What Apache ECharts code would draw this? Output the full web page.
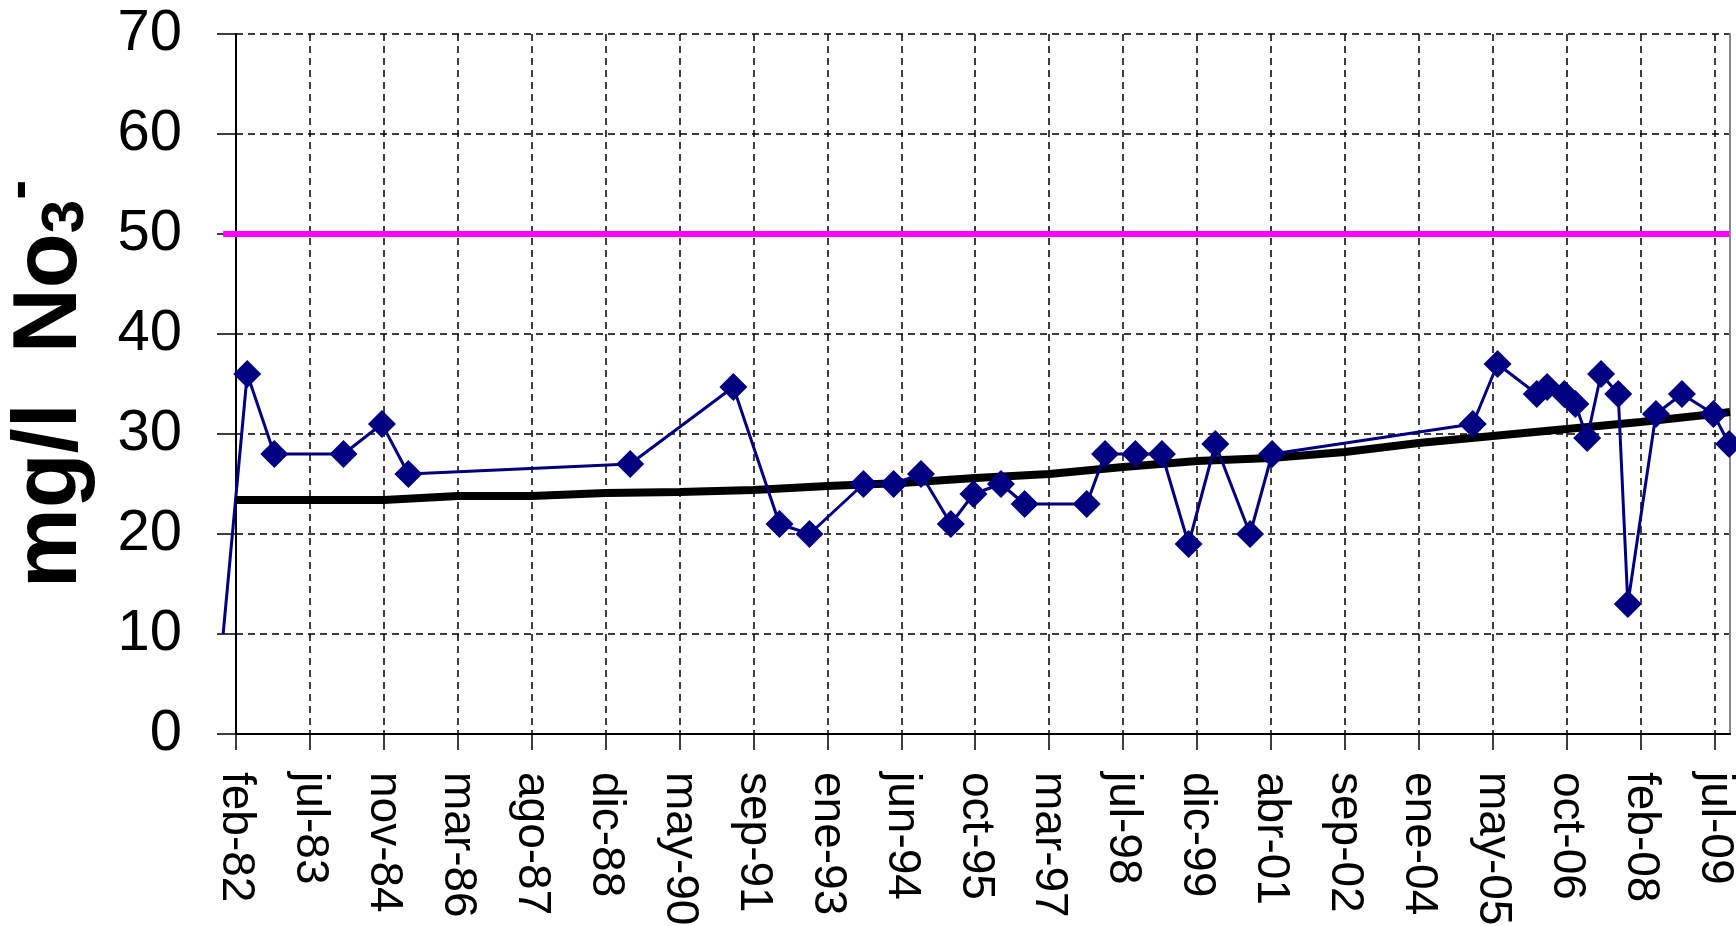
<!DOCTYPE html>
<html>
<head>
<meta charset="utf-8">
<title>mg/l NO3</title>
<script src="https://cdn.jsdelivr.net/npm/echarts@6/dist/echarts.min.js"></script>
<style>
  html, body { margin: 0; padding: 0; background: #fff; }
  #chart { width: 1736px; height: 926px; }
</style>
</head>
<body>
<div id="chart"></div>
<script>
// axis: days counted from the first tick, one tick every 500 days
const startDate = '1982-02-20';
const tickStep = 500;
const tickLabels = ['feb-82', 'jul-83', 'nov-84', 'mar-86', 'ago-87', 'dic-88', 'may-90',
  'sep-91', 'ene-93', 'jun-94', 'oct-95', 'mar-97', 'jul-98', 'dic-99', 'abr-01',
  'sep-02', 'ene-04', 'may-05', 'oct-06', 'feb-08', 'jul-09'];

// muestras
const sampleDates = ['1981-11-25', '1982-05-07', '1982-11-06', '1984-02-17', '1984-11-03',
  '1985-05-01', '1989-06-09', '1991-05-08', '1992-03-15', '1992-10-04', '1993-10-04',
  '1994-04-26', '1994-10-28', '1995-05-18', '1995-10-18', '1996-04-21', '1996-09-28',
  '1997-11-22', '1998-03-26', '1998-10-17', '1999-04-15', '1999-10-12', '2000-04-10',
  '2000-12-01', '2001-04-29', '2005-01-15', '2005-07-02', '2006-03-24', '2006-06-02',
  '2006-09-26', '2006-12-10', '2007-02-28', '2007-06-02', '2007-09-26', '2007-11-30',
  '2008-06-07', '2008-11-30', '2009-07-01', '2009-10-15'];
const nitrate = [10, 36, 28, 28, 31, 26, 27, 34.7, 21, 20, 25, 25, 26, 21, 24, 25, 23,
  23, 28, 28, 28, 19, 29, 20, 28, 31, 37, 34, 34.7, 34, 33, 29.6, 36, 34, 13, 32, 34, 32, 29];

// tendencia, read at every tick and at the right edge
const trendAtTicks = [23.4, 23.4, 23.4, 23.8, 23.8, 24.1, 24.2, 24.4, 24.8, 25.1, 25.6,
  26.0, 26.7, 27.3, 27.6, 28.2, 29.1, 29.8, 30.5, 31.2, 32.0];
const trendAtEnd = 32.2;

const limitValue = 50;
const xMax = 10105;

const DAY = 86400000;
const toDays = d => (Date.parse(d) - Date.parse(startDate)) / DAY;
const tickDays = tickLabels.map((_, i) => i * tickStep);
const sampleDays = sampleDates.map(toDays);
const lastIdx = sampleDays.length - 1;

const font = 'Liberation Sans, Arial, sans-serif';
const gridDash = { color: '#000', width: 1.5, type: [7, 5] };

// straight segment between two data points, not clipped to the grid
// item = [xStart, yStart, xEnd, yEnd]
function segment(color, width) {
  return function (params, api) {
    const a = api.coord([api.value(0), api.value(1)]);
    const b = api.coord([api.value(2), api.value(3)]);
    return {
      type: 'line',
      shape: { x1: a[0], y1: a[1], x2: b[0], y2: b[1] },
      style: { stroke: color, lineWidth: width }
    };
  };
}

const chart = echarts.init(document.getElementById('chart'));
chart.setOption({
  animation: false,
  backgroundColor: '#fff',
  grid: { left: 236, right: 6, top: 34, bottom: 192, containLabel: false, outerBoundsMode: 'none' },
  xAxis: {
    type: 'value',
    min: 0,
    max: xMax,
    interval: tickStep,
    axisLine: { lineStyle: { color: '#000', width: 2 } },
    axisTick: { length: 16, lineStyle: { color: '#000', width: 1.5 }, customValues: tickDays },
    axisLabel: {
      rotate: -90,
      margin: 38,
      fontFamily: font,
      fontSize: 46,
      color: '#000',
      customValues: tickDays,
      formatter: v => tickLabels[Math.round(v / tickStep)] || ''
    },
    splitLine: { show: true, lineStyle: gridDash }
  },
  yAxis: [{
    type: 'value',
    min: 0,
    max: 70,
    interval: 10,
    name: '{a|mg/l  No}{sub|3}{sup|-}',
    nameLocation: 'middle',
    nameRotate: 90,
    nameGap: 128,
    nameTextStyle: {
      fontFamily: font,
      fontWeight: 'bold',
      fontSize: 90,
      color: '#000',
      rich: {
        a: { fontFamily: font, fontWeight: 'bold', fontSize: 90, lineHeight: 110, color: '#000' },
        sub: {
          fontFamily: font, fontWeight: 'bold', fontSize: 60, lineHeight: 30,
          verticalAlign: 'bottom', padding: [0, 0, 10, 0], color: '#000'
        },
        sup: {
          fontFamily: font, fontWeight: 'bold', fontSize: 60, lineHeight: 30,
          verticalAlign: 'bottom', padding: [0, 0, 56, 0], color: '#000'
        }
      }
    },
    axisLine: { show: true, lineStyle: { color: '#000', width: 2 } },
    axisTick: { show: true, length: 19, lineStyle: { color: '#000', width: 1.5 } },
    axisLabel: { margin: 54, fontFamily: font, fontSize: 58, color: '#000' },
    splitLine: { show: true, lineStyle: gridDash }
  }, {
    type: 'value',
    position: 'right',
    min: 0,
    max: 70,
    axisLine: { show: true, lineStyle: { color: '#888', width: 2 } },
    axisTick: { show: false },
    axisLabel: { show: false },
    splitLine: { show: false }
  }],
  series: [{
    name: 'limite',
    type: 'custom',
    clip: false,
    renderItem: segment('#ff00ff', 6),
    encode: { x: [0, 2], y: [1, 3] },
    data: [[sampleDays[0], limitValue, sampleDays[lastIdx], limitValue]]
  }, {
    name: 'tendencia',
    type: 'line',
    symbol: 'none',
    data: tickDays.map((d, i) => [d, trendAtTicks[i]]).concat([[xMax, trendAtEnd]]),
    lineStyle: { color: '#000', width: 8 }
  }, {
    // first sample lies before the first tick
    name: 'NO3 inicio',
    type: 'custom',
    clip: false,
    renderItem: segment('#000080', 3),
    encode: { x: [0, 2], y: [1, 3] },
    data: [[sampleDays[0], nitrate[0], sampleDays[1], nitrate[1]]]
  }, {
    name: 'NO3',
    type: 'line',
    clip: false,
    symbol: 'diamond',
    symbolSize: 28,
    data: sampleDays.slice(1).map((d, i) => [d, nitrate[i + 1]]),
    itemStyle: { color: '#000080' },
    lineStyle: { color: '#000080', width: 3 }
  }]
});
</script>
</body>
</html>
